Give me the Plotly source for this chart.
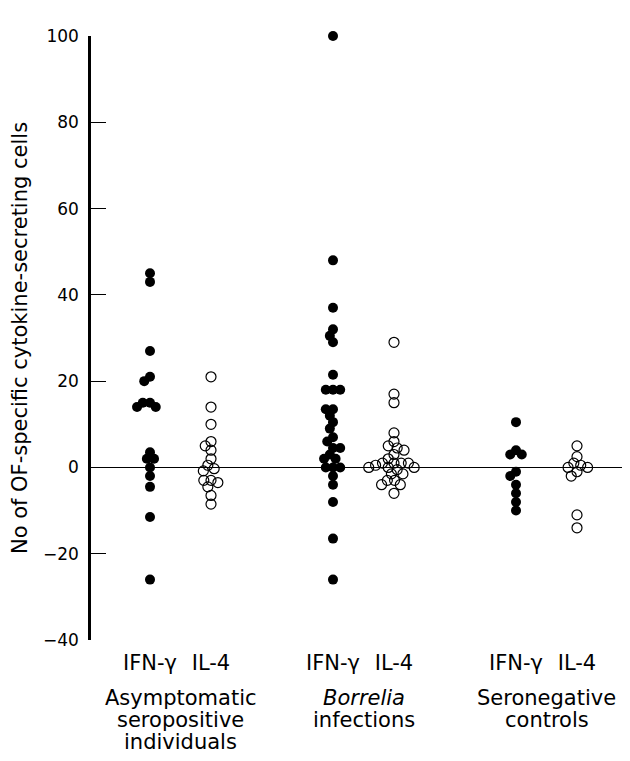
import numpy as np
import plotly.graph_objects as go

# ---------------- data ----------------
categories = ["IFN-γ", "IL-4"]
group_lines = [
    ["Asymptomatic", "seropositive", "individuals"],
    ["<i>Borrelia</i>", "infections"],
    ["Seronegative", "controls"],
]
y_ticks = [-40, -20, 0, 20, 40, 60, 80, 100]

asym_ifn = [45, 43, 27, 21, 20, 15, 15, 14, 14, 3.5, 2, 2, 0, -2, -4.5, -11.5, -26]
asym_il4 = [21, 14, 10, 6, 5, 4, 2, 0.5, -0.3, -0.8, -3, -3, -3.5, -4.5, -6.5, -8.5]

borr_ifn = [100, 48, 37, 32, 30.5, 29, 21.5, 18, 18, 18, 13.5, 13.5, 12, 10.5, 9,
            7, 6, 4.5, 4.5, 3, 2, 2, 0, 0, 0, -2, -4, -8, -16.5, -26]
borr_il4 = [29, 17, 15, 8, 6, 5, 4.5, 4, 3, 2, 1, 1, 1, 1, 0.5, 0, 0, 0, -0.5,
            -1.5, -1.5, -3, -3, -4, -4, -6]

sero_ifn = [10.5, 4, 3, 3, -1, -2, -4, -6, -8, -10]
sero_il4 = [5, 2.5, 1, 0.5, 0, 0, -1, -2, -11, -14]

series = [
    (asym_ifn, 0, True), (asym_il4, 1, False),
    (borr_ifn, 3, True), (borr_il4, 4, False),
    (sero_ifn, 6, True), (sero_il4, 7, False),
]

# ---------------- layout constants ----------------
# The page body adds an 8 px margin, so the figure is 8 px smaller and
# every screen target is shifted by 8 px.
OFF = 8
W, H = 630 - OFF, 761 - OFF
ML, MR, MT = 91 - OFF, 0, 36 - OFF
PLOT_BOTTOM = 640 - OFF
MB = H - PLOT_BOTTOM
plot_h = H - MT - MB
plot_w = W - ML - MR
y_range = [-40, 100]
px_per_y = plot_h / (y_range[1] - y_range[0])
px_per_x = 61.0
x_left = -(150 - 91) / px_per_x
x_range = [x_left, x_left + plot_w / px_per_x]
DOT = 10
MIN_DIST = 7.2


def swarm(values, d_px, py):
    ys = np.asarray(values, dtype=float) * py
    order = np.argsort(-ys, kind="stable")
    placed = []
    xs = np.zeros(len(ys))
    for i in order:
        y = ys[i]
        cands = [0.0]
        for (px_, py_) in placed:
            dy = abs(py_ - y)
            if dy < d_px:
                dx = np.sqrt(d_px ** 2 - dy ** 2)
                cands += [px_ + dx, px_ - dx]
        cands.sort(key=lambda c: (abs(c), c))
        for c in cands:
            if all((c - a) ** 2 + (y - b) ** 2 >= d_px ** 2 - 1e-6 for a, b in placed):
                xs[i] = c
                break
        placed.append((xs[i], y))
    return xs


fig = go.Figure()
for vals, base, filled in series:
    offs = swarm(vals, MIN_DIST, px_per_y) / px_per_x
    xs = [base + o for o in offs]
    if filled:
        marker = dict(symbol="circle", size=DOT, color="black", line=dict(width=0))
    else:
        marker = dict(symbol="circle-open", size=DOT, color="black", line=dict(width=1.2))
    fig.add_trace(go.Scatter(x=xs, y=vals, mode="markers", marker=marker,
                             cliponaxis=False, showlegend=False, hoverinfo="skip"))

FONT = "DejaVu Sans"
annotations = []
for gi, lines in enumerate(group_lines):
    for li, txt in enumerate(lines):
        annotations.append(dict(
            x=3 * gi + 0.5, xref="x", y=0, yref="paper",
            yanchor="middle", xanchor="center", showarrow=False,
            yshift=-(698 - 640) - 22 * li,
            text=txt, font=dict(family=FONT, size=21, color="black"),
        ))

fig.update_layout(
    width=W, height=H,
    margin=dict(l=ML, r=MR, t=MT, b=MB, pad=0),
    paper_bgcolor="white", plot_bgcolor="white",
    showlegend=False,
    annotations=annotations,
    xaxis=dict(
        range=x_range, showgrid=False, zeroline=False, showline=False,
        tickmode="array", tickvals=[0, 1, 3, 4, 6, 7],
        ticktext=categories * 3, ticks="",
        tickfont=dict(family=FONT, size=21, color="black"),
        ticklabelstandoff=8,
    ),
    yaxis=dict(
        range=y_range, showgrid=False,
        zeroline=True, zerolinecolor="black", zerolinewidth=1,
        showline=True, linecolor="black", linewidth=2.5,
        tickmode="array", tickvals=y_ticks,
        ticks="inside", ticklen=15, tickwidth=1, tickcolor="black",
        tickfont=dict(family=FONT, size=17, color="black"),
        ticklabelstandoff=6,
        title=dict(text="No of OF-specific cytokine-secreting cells",
                   font=dict(family=FONT, size=21, color="black"), standoff=11),
    ),
)

fig.write_html("out.html")
